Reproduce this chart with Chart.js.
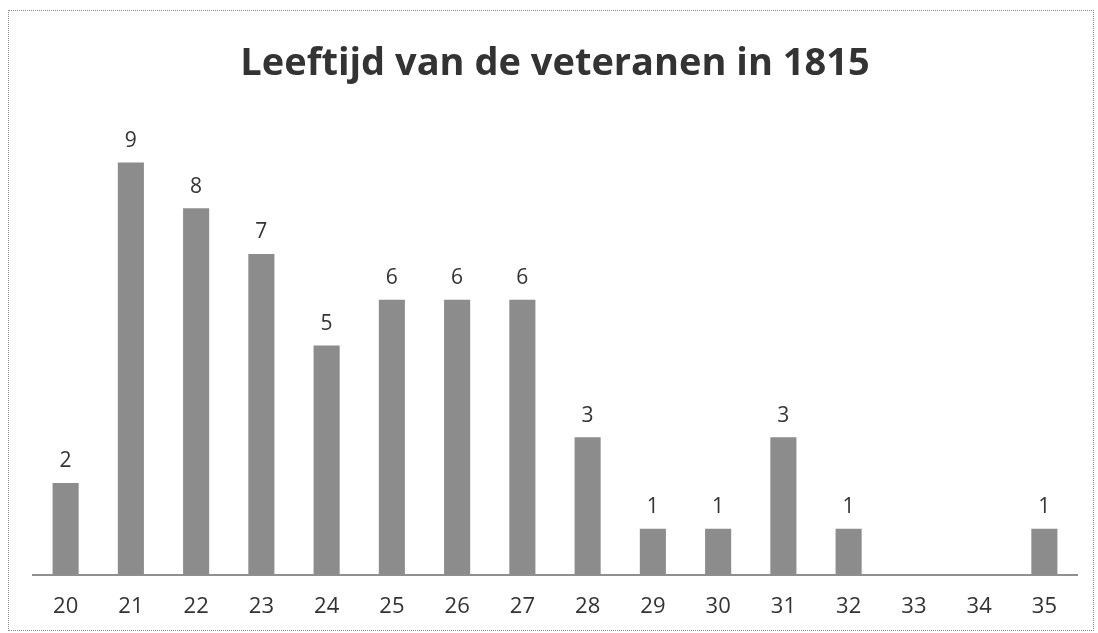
<!DOCTYPE html>
<html>
<head>
<meta charset="utf-8">
<script src="https://cdn.jsdelivr.net/npm/chart.js@4/dist/chart.umd.min.js"></script>
<style>
  html, body { margin: 0; padding: 0; background: #fff; }
  #frame { position: absolute; left: 8px; top: 10px; width: 1086px; height: 621px; border: 1px dotted #8a8a8a; box-sizing: border-box; }
  #wrap { position: absolute; left: 0; top: 0; width: 1098px; height: 633px; }
</style>
</head>
<body>
<div id="frame"></div>
<div id="wrap"><canvas id="c" width="1098" height="633"></canvas></div>
<script>
const categories = ["20","21","22","23","24","25","26","27","28","29","30","31","32","33","34","35"];
const counts = [2, 9, 8, 7, 5, 6, 6, 6, 3, 1, 1, 3, 1, 0, 0, 1];
const titleText = "Leeftijd van de veteranen in 1815";

const valueLabels = {
  id: 'valueLabels',
  afterDatasetsDraw(chart) {
    const ctx = chart.ctx;
    const meta = chart.getDatasetMeta(0);
    ctx.save();
    ctx.font = '21px "Open Sans", sans-serif';
    ctx.fillStyle = '#333';
    ctx.textAlign = 'center';
    ctx.textBaseline = 'bottom';
    meta.data.forEach((bar, i) => {
      const v = chart.data.datasets[0].data[i];
      if (v > 0) ctx.fillText(String(v), bar.x, bar.y - 11);
    });
    ctx.restore();
  }
};

new Chart(document.getElementById('c'), {
  type: 'bar',
  data: {
    labels: categories,
    datasets: [{
      data: counts,
      backgroundColor: '#8c8c8c',
      borderWidth: 0,
      barPercentage: 0.8,
      categoryPercentage: 0.5
    }]
  },
  options: {
    responsive: false,
    animation: false,
    layout: { padding: { left: 33, right: 21, top: 0, bottom: -6 } },
    plugins: {
      legend: { display: false },
      tooltip: { enabled: false },
      title: {
        display: true,
        text: titleText,
        color: '#333',
        font: { family: '"Open Sans", sans-serif', size: 38, weight: 'bold' },
        padding: { top: 41, bottom: 30 }
      }
    },
    scales: {
      x: {
        grid: { display: false, drawTicks: false },
        border: { display: true, color: '#8f8f8f', width: 2 },
        ticks: { color: '#333', font: { family: '"Open Sans", sans-serif', size: 22 }, padding: 19, maxRotation: 0 }
      },
      y: {
        min: 0, max: 10,
        display: false
      }
    }
  },
  plugins: [valueLabels]
});
</script>
</body>
</html>
